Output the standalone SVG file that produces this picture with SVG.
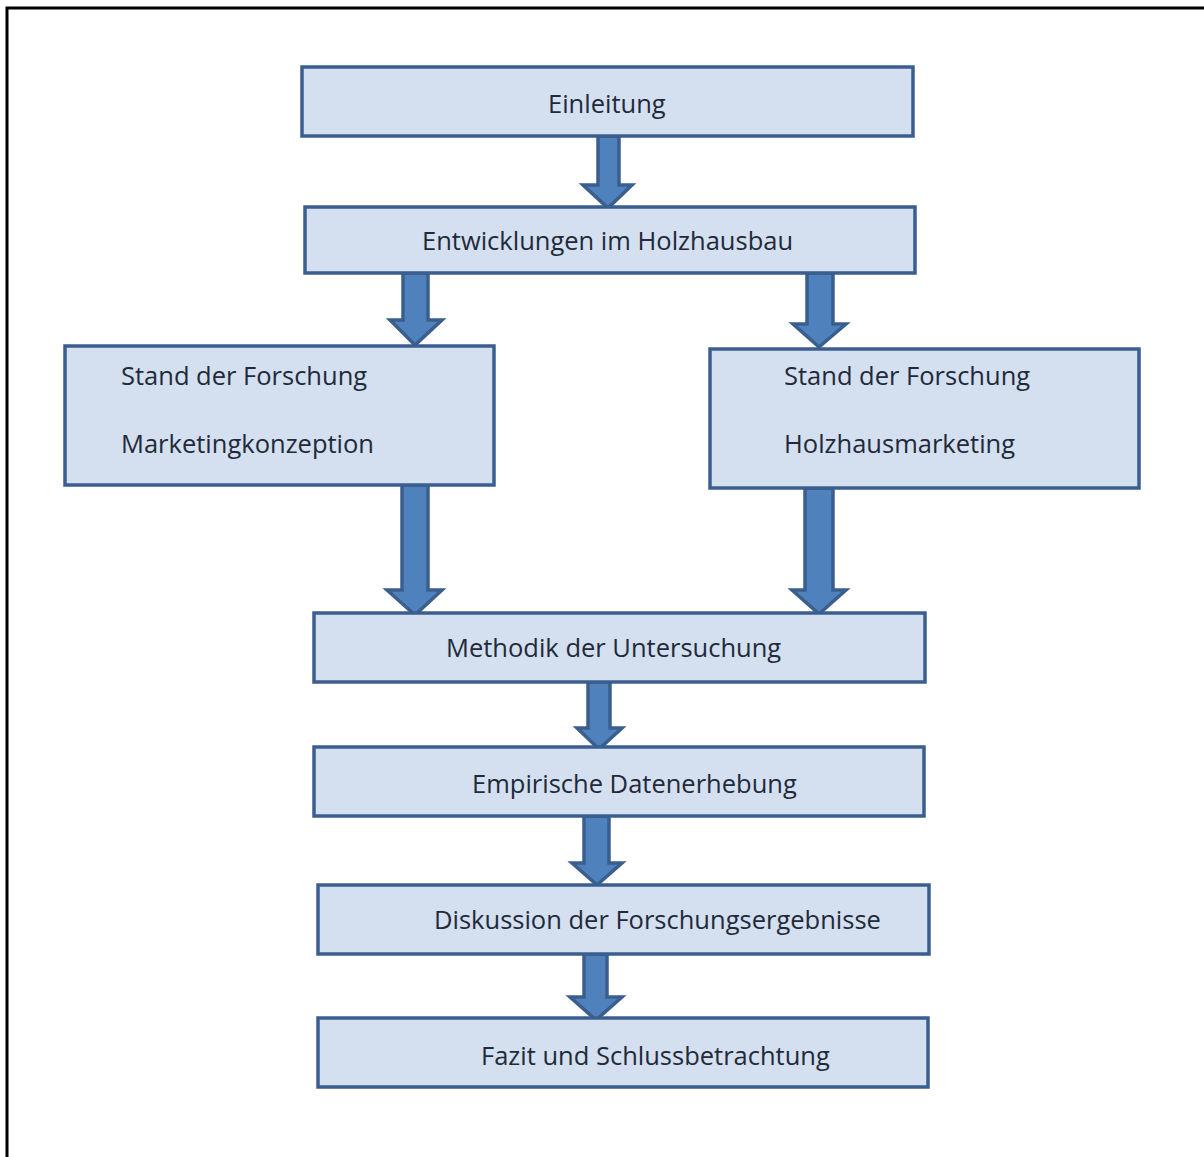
<svg xmlns="http://www.w3.org/2000/svg" width="1204" height="1157" viewBox="0 0 1204 1157">
  <style>
    .box { fill: #D4DFF0; stroke: #3A5F8E; stroke-width: 3.5; }
    .arrow { fill: #4F81BD; stroke: #3A5F8E; stroke-width: 3.5; stroke-linejoin: miter; }
    .label { font-family: "Open Sans", "Noto Sans", "Liberation Sans", sans-serif; font-size: 25.5px; fill: #1F2A3A; }
    .frame { fill: none; stroke: #000; stroke-width: 3; }
  </style>
  <rect x="0" y="0" width="1204" height="1157" fill="#fff"/>
  <path class="frame" d="M7,1157 V8 H1204"/>

  <g id="connectors">
    <polygon class="arrow" points="598,136 619,136 619,185 632,185 608,208 583,185 598,185"/>
    <polygon class="arrow" points="403,273 428,273 428,320 442,320 415,345 390,320 403,320"/>
    <polygon class="arrow" points="807,273 833,273 833,324 846,324 819,347 793,324 807,324"/>
    <polygon class="arrow" points="402,485 428,485 428,590 442,590 415,615 387,590 402,590"/>
    <polygon class="arrow" points="805,488 833,488 833,590 846,590 819,614 792,590 805,590"/>
    <polygon class="arrow" points="588,682 610,682 610,728 622,728 599,749 577,728 588,728"/>
    <polygon class="arrow" points="584,816 609,816 609,863 622,863 597,885 572,863 584,863"/>
    <polygon class="arrow" points="584,954 607,954 607,997 622,997 596,1020 570,997 584,997"/>
  </g>

  <g id="einleitung">
    <rect class="box" x="302" y="67" width="611" height="69"/>
    <text class="label" x="548" y="113">Einleitung</text>
  </g>
  <g id="entwicklungen">
    <rect class="box" x="305" y="207" width="610" height="66"/>
    <text class="label" x="422" y="250">Entwicklungen im Holzhausbau</text>
  </g>
  <g id="stand-marketingkonzeption">
    <rect class="box" x="65" y="346" width="429" height="139"/>
    <text class="label" x="121" y="385">Stand der Forschung</text>
    <text class="label" x="121" y="453">Marketingkonzeption</text>
  </g>
  <g id="stand-holzhausmarketing">
    <rect class="box" x="710" y="349" width="429" height="139"/>
    <text class="label" x="784" y="385">Stand der Forschung</text>
    <text class="label" x="784" y="453">Holzhausmarketing</text>
  </g>
  <g id="methodik">
    <rect class="box" x="314" y="613" width="611" height="69"/>
    <text class="label" x="446" y="657">Methodik der Untersuchung</text>
  </g>
  <g id="empirische-datenerhebung">
    <rect class="box" x="314" y="747" width="610" height="69"/>
    <text class="label" x="472" y="793">Empirische Datenerhebung</text>
  </g>
  <g id="diskussion">
    <rect class="box" x="318" y="885" width="611" height="69"/>
    <text class="label" x="434" y="929">Diskussion der Forschungsergebnisse</text>
  </g>
  <g id="fazit">
    <rect class="box" x="318" y="1018" width="610" height="69"/>
    <text class="label" x="481" y="1065">Fazit und Schlussbetrachtung</text>
  </g>
</svg>
